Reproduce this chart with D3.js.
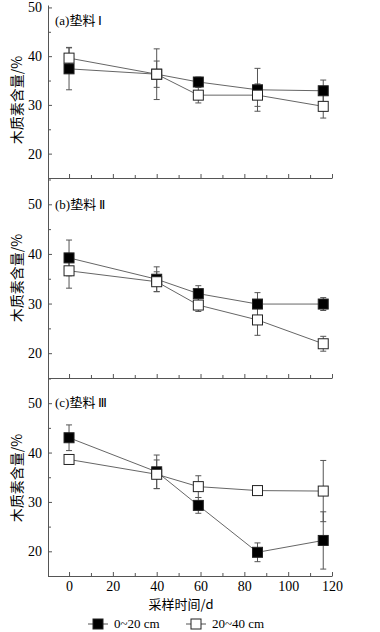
<!DOCTYPE html>
<html><head><meta charset="utf-8">
<script src="https://cdn.jsdelivr.net/npm/d3@7/dist/d3.min.js"></script>
<style>body{margin:0;background:#fff}svg{display:block}</style>
</head><body>
<script>
const days = [0, 40, 59, 86, 116];
const panelTitles = ["(a)", "(b)", "(c)"];
const panelNames = ["垫料", "垫料", "垫料"];
const panelNumerals = ["Ⅰ", "Ⅱ", "Ⅲ"];
const seriesNames = ["0~20 cm", "20~40 cm"];
const aTop = [37.4, 36.3, 34.7, 33.1, 32.9];
const aTopErr = [4.3, 2.7, 1.0, 4.4, 2.2];
const aBot = [39.6, 36.3, 32.0, 32.0, 29.7];
const aBotErr = [2.2, 5.2, 1.6, 2.3, 2.4];
const bTop = [39.2, 34.9, 32.0, 29.9, 29.9];
const bTopErr = [3.6, 2.5, 1.6, 2.3, 1.3];
const bBot = [36.6, 34.4, 29.7, 26.7, 21.9];
const bBotErr = [3.5, 2.0, 1.3, 3.1, 1.5];
const cTop = [43.0, 36.1, 29.3, 19.8, 22.2];
const cTopErr = [2.6, 3.4, 1.6, 1.9, 5.8];
const cBot = [38.6, 35.6, 33.1, 32.3, 32.2];
const cBotErr = [0.8, 2.9, 2.2, 0.5, 6.2];
const xTicks = [0, 20, 40, 60, 80, 100, 120];
const yTicks = [20, 30, 40, 50];
const yLabel = "木质素含量/%";
const xLabel = "采样时间/d";

const W = 380, H = 632;
const svg = d3.select("body").append("svg").attr("width", W).attr("height", H);
const x = d3.scaleLinear().domain([-9.6, 120]).range([48, 332]);
const panels = [
  {top: aTop, topErr: aTopErr, bot: aBot, botErr: aBotErr, domain: [15, 50.5], range: [178, 5], titleY: 25, labelY: 100},
  {top: bTop, topErr: bTopErr, bot: bBot, botErr: bBotErr, domain: [15, 55.3], range: [378, 178], titleY: 209, labelY: 278},
  {top: cTop, topErr: cTopErr, bot: cBot, botErr: cBotErr, domain: [15, 55.1], range: [576, 378], titleY: 407, labelY: 478}
];
const serif = "'Liberation Serif','Times New Roman',serif";
const cjk = "'Noto Sans CJK SC',sans-serif";
const lineCol = "#555";

panels.forEach((p, i) => {
  const y = d3.scaleLinear().domain(p.domain).range(p.range);
  const g = svg.append("g");
  // y axis
  const yMinor = d3.range(15, p.domain[1], 5).filter(v => !yTicks.includes(v));
  g.append("g").attr("transform", `translate(${x.range()[0]},0)`)
    .call(d3.axisLeft(y).tickValues(yTicks).tickSizeInner(-4).tickSizeOuter(0).tickPadding(6).tickFormat(d3.format("d")))
    .call(s => s.select(".domain").attr("stroke", lineCol))
    .call(s => s.selectAll(".tick line").attr("stroke", lineCol))
    .call(s => s.selectAll(".tick text").attr("font-family", serif).attr("font-size", 14).attr("fill", "#000"));
  g.append("g").attr("transform", `translate(${x.range()[0]},0)`)
    .call(d3.axisLeft(y).tickValues(yMinor).tickSize(-3).tickFormat(""))
    .call(s => s.select(".domain").remove())
    .call(s => s.selectAll(".tick line").attr("stroke", lineCol));
  // x axis
  const xMinor = d3.range(10, 120, 20);
  g.append("g").attr("transform", `translate(0,${p.range[0]})`)
    .call(d3.axisBottom(x).tickValues(xTicks).tickSizeInner(-4).tickSizeOuter(0).tickPadding(5).tickFormat(i === 2 ? d3.format("d") : ""))
    .call(s => s.select(".domain").attr("stroke", lineCol))
    .call(s => s.selectAll(".tick line").attr("stroke", lineCol))
    .call(s => s.selectAll(".tick text").attr("font-family", serif).attr("font-size", 14).attr("fill", "#000"));
  g.append("g").attr("transform", `translate(0,${p.range[0]})`)
    .call(d3.axisBottom(x).tickValues(xMinor).tickSize(-3).tickFormat(""))
    .call(s => s.select(".domain").remove())
    .call(s => s.selectAll(".tick line").attr("stroke", lineCol));
  // title
  const t = g.append("text").attr("x", 55).attr("y", p.titleY).attr("font-size", 13).attr("fill", "#000");
  t.append("tspan").attr("font-family", serif).text(panelTitles[i]);
  t.append("tspan").attr("font-family", cjk).text(panelNames[i]);
  t.append("tspan").attr("font-family", serif).attr("dx", 3).text(panelNumerals[i]);
  // y label
  g.append("text").attr("transform", `translate(22,${p.labelY}) rotate(-90)`).attr("text-anchor", "middle")
    .attr("font-family", cjk).attr("font-size", 14).attr("fill", "#000").text(yLabel);

  const series = [
    {vals: p.top, errs: p.topErr, fill: "#000"},
    {vals: p.bot, errs: p.botErr, fill: "#fff"}
  ];
  const line = d3.line().x((d, j) => x(days[j])).y(d => y(d));
  series.forEach(s => {
    g.append("path").attr("d", line(s.vals)).attr("fill", "none").attr("stroke", "#666").attr("stroke-width", 1);
  });
  series.forEach(s => {
    s.vals.forEach((v, j) => {
      const cx = x(days[j]), e = s.errs[j];
      g.append("line").attr("x1", cx).attr("x2", cx).attr("y1", y(v - e)).attr("y2", y(v + e)).attr("stroke", "#555").attr("stroke-width", 1);
      [v - e, v + e].forEach(w => {
        g.append("line").attr("x1", cx - 3).attr("x2", cx + 3).attr("y1", y(w)).attr("y2", y(w)).attr("stroke", "#555").attr("stroke-width", 1);
      });
    });
  });
  series.forEach(s => {
    s.vals.forEach((v, j) => {
      g.append("rect").attr("x", x(days[j]) - 5).attr("y", y(v) - 5).attr("width", 10).attr("height", 10)
        .attr("fill", s.fill).attr("stroke", "#222").attr("stroke-width", 1);
    });
  });
});

// x label
svg.append("text").attr("x", 181).attr("y", 609).attr("text-anchor", "middle")
  .attr("font-family", cjk).attr("font-size", 13).attr("fill", "#000").text(xLabel);

// legend
const legend = [
  {x0: 88, fill: "#000", label: seriesNames[0]},
  {x0: 186, fill: "#fff", label: seriesNames[1]}
];
legend.forEach(l => {
  svg.append("line").attr("x1", l.x0).attr("x2", l.x0 + 20).attr("y1", 624).attr("y2", 624).attr("stroke", "#555");
  svg.append("rect").attr("x", l.x0 + 5).attr("y", 619).attr("width", 10).attr("height", 10).attr("fill", l.fill).attr("stroke", "#222");
  svg.append("text").attr("x", l.x0 + 26).attr("y", 628).attr("font-family", serif).attr("font-size", 13).attr("fill", "#000").text(l.label);
});
</script>
</body></html>
